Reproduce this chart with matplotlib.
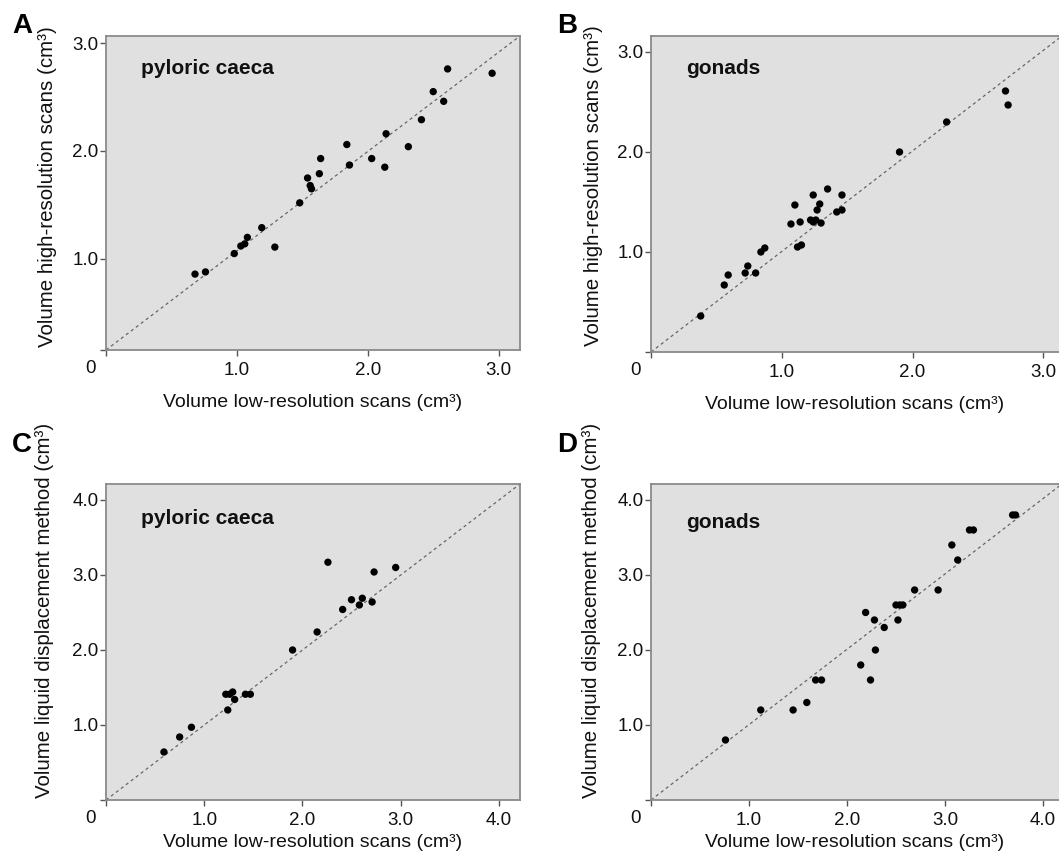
import matplotlib
matplotlib.use("Agg")
import matplotlib.pyplot as plt

plt.rcParams['font.family'] = ['Liberation Sans', 'DejaVu Sans']

# Panel A: pyloric caeca, low-res vs high-res scans
a_low = [0.68, 0.76, 0.98, 1.03, 1.06, 1.08, 1.19, 1.29, 1.48, 1.54, 1.56, 1.57, 1.63,
         1.64, 1.84, 1.86, 2.03, 2.13, 2.14, 2.31, 2.41, 2.50, 2.58, 2.61, 2.95]
a_high = [0.86, 0.88, 1.05, 1.12, 1.14, 1.20, 1.29, 1.11, 1.52, 1.75, 1.68, 1.65, 1.79,
          1.93, 2.06, 1.87, 1.93, 1.85, 2.16, 2.04, 2.29, 2.55, 2.46, 2.76, 2.72]

# Panel B: gonads, low-res vs high-res scans
b_low = [0.38, 0.56, 0.59, 0.72, 0.74, 0.80, 0.84, 0.87, 1.07, 1.10, 1.12, 1.15, 1.14, 1.22,
         1.24, 1.26, 1.24, 1.27, 1.29, 1.30, 1.35, 1.42, 1.46, 1.46, 1.90, 2.26, 2.71, 2.73]
b_high = [0.36, 0.67, 0.77, 0.79, 0.86, 0.79, 1.00, 1.04, 1.28, 1.47, 1.05, 1.07, 1.30, 1.32,
          1.30, 1.32, 1.57, 1.42, 1.48, 1.29, 1.63, 1.40, 1.42, 1.57, 2.00, 2.30, 2.61, 2.47]

# Panel C: pyloric caeca, low-res scans vs liquid displacement
c_low = [0.59, 0.75, 0.87, 1.22, 1.26, 1.29, 1.31, 1.24, 1.42, 1.47, 1.90, 2.15, 2.26,
         2.41, 2.50, 2.58, 2.61, 2.71, 2.73, 2.95]
c_disp = [0.64, 0.84, 0.97, 1.41, 1.41, 1.44, 1.34, 1.20, 1.41, 1.41, 2.00, 2.24, 3.17,
          2.54, 2.67, 2.60, 2.69, 2.64, 3.04, 3.10]

# Panel D: gonads, low-res scans vs liquid displacement
d_low = [0.76, 1.12, 1.45, 1.59, 1.68, 1.74, 2.14, 2.24, 2.19, 2.28, 2.29, 2.38, 2.50,
         2.54, 2.57, 2.52, 2.69, 2.93, 3.07, 3.13, 3.25, 3.29, 3.69, 3.72]
d_disp = [0.80, 1.20, 1.20, 1.30, 1.60, 1.60, 1.80, 1.60, 2.50, 2.40, 2.00, 2.30, 2.60,
          2.60, 2.60, 2.40, 2.80, 2.80, 3.40, 3.20, 3.60, 3.60, 3.80, 3.80]

W, H = 1059, 856
XLAB = "Volume low-resolution scans (cm³)"
YLAB_SCAN = "Volume high-resolution scans (cm³)"
YLAB_DISP = "Volume liquid displacement method (cm³)"


def make_panel(fig, box, x, y, xlim, ylim, ticks, tissue, letter, ylabel, lay):
    left, right, top, bottom = box
    ylab_x, ylab_c, xlab_top, tissue_y, letter_base = lay
    aw, ah = right - left, bottom - top
    ax = fig.add_axes([left / W, 1 - bottom / H, aw / W, ah / H])
    ax.set_facecolor('#e0e0e0')
    for sp in ax.spines.values():
        sp.set_color('#8a8a8a')
        sp.set_linewidth(1.3)

    # reference line along the panel diagonal
    ax.plot(xlim, ylim, color='#666666', lw=0.9, ls=(0, (2.5, 2.5)), zorder=2)
    ax.scatter(x, y, s=28, color='black', edgecolors='none', zorder=3)

    ax.set_xlim(xlim)
    ax.set_ylim(ylim)
    ax.set_xticks([xlim[0]] + ticks)
    ax.set_xticklabels([''] + ['%.1f' % t for t in ticks])
    ax.set_yticks([ylim[0]] + ticks)
    ax.set_yticklabels([''] + ['%.1f' % t for t in ticks])
    ax.tick_params(axis='both', direction='out', length=4, width=1, color='#555555',
                   labelsize=13.5, labelcolor='#111111')
    ax.tick_params(axis='x', pad=4.5)
    ax.tick_params(axis='y', pad=1.5)

    ax.annotate('0', xy=(0, 0), xycoords='axes fraction', xytext=(-11, -13),
                textcoords='offset points', ha='center', va='center',
                fontsize=13.5, color='#111111')

    ax.set_xlabel(XLAB, fontsize=14, color='#111111')
    ax.set_ylabel(ylabel, fontsize=14.8, color='#111111')
    xc = 0.5 * (W - left) / aw if right > W else 0.5
    ax.xaxis.set_label_coords(xc, -xlab_top / ah)
    ax.yaxis.set_label_coords(-ylab_x / aw, (bottom - ylab_c) / ah)

    ax.text(35 / aw, 1 - tissue_y / ah, tissue, transform=ax.transAxes,
            fontsize=15, fontweight='bold', ha='left', va='center', color='#111111')
    fig.text((left - 94) / W, 1 - letter_base / H, letter, fontsize=20,
             fontweight='bold', ha='left', va='baseline', color='black')
    return ax


fig = plt.figure(figsize=(W / 100, H / 100), dpi=100)

# layout per panel: ylabel offset, ylabel centre (px), xlabel top gap, tissue label y, letter baseline
make_panel(fig, (106, 520, 36, 350), a_low, a_high, (0, 3.163), (0.157, 3.065),
           [1.0, 2.0, 3.0], 'pyloric caeca', 'A', YLAB_SCAN, (49, 187, 44, 32, 33))
make_panel(fig, (651, 1062, 36, 352), b_low, b_high, (0, 3.142), (0, 3.16),
           [1.0, 2.0, 3.0], 'gonads', 'B', YLAB_SCAN, (48, 186, 44, 32, 33))
make_panel(fig, (106, 520, 484, 800), c_low, c_disp, (0, 4.216), (0, 4.213),
           [1.0, 2.0, 3.0, 4.0], 'pyloric caeca', 'C', YLAB_DISP, (52, 610, 34, 34, 452))
make_panel(fig, (651, 1062, 484, 800), d_low, d_disp, (0, 4.194), (0, 4.213),
           [1.0, 2.0, 3.0, 4.0], 'gonads', 'D', YLAB_DISP, (50, 610, 34, 38, 452))

fig.savefig('out.png', dpi=100, facecolor='white')
